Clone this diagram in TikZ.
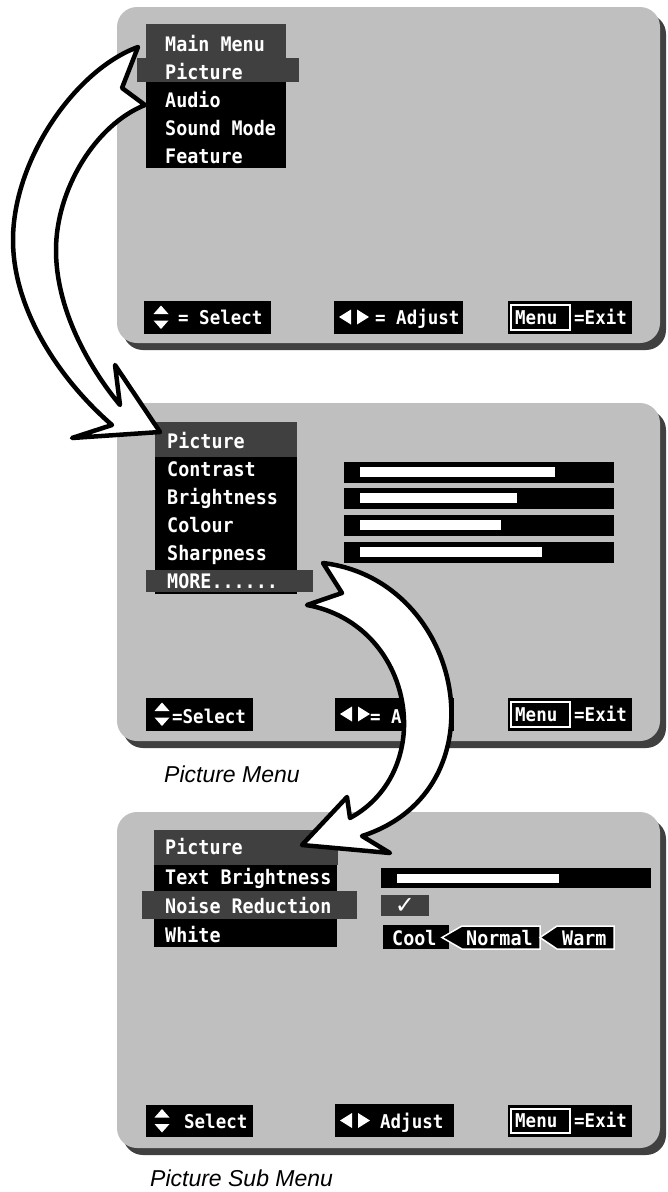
\documentclass[tikz,border=0pt]{standalone}
\usepackage{fontspec}
\setmainfont{Liberation Sans}
\newfontfamily\osdfont{DejaVu Sans Mono}[FakeStretch=0.92]
\newfontfamily\symbfont{DejaVu Sans}
\usepackage{tikz}
\definecolor{screengray}{RGB}{191,191,191}
\definecolor{osddark}{RGB}{64,64,64}
\tikzset{osd/.style={font=\osdfont\bfseries\fontsize{20}{22}\selectfont, text=white, inner sep=0pt, anchor=base west}}
\tikzset{osdbar/.style={font=\osdfont\bfseries\fontsize{19}{21}\selectfont, text=white, inner sep=0pt, anchor=base west}}
\tikzset{caption/.style={font=\itshape\fontsize{23}{26}\selectfont, inner sep=0pt, anchor=base west}}
\tikzset{bigarrow/.style={draw=black, fill=white, line width=4.5pt, line join=round}}
\newcommand{\tvscreen}[2]{% top and bottom edge
  \fill[osddark, rounded corners=20pt] (123,#1+7) rectangle (666,#2+7);
  \fill[screengray, rounded corners=20pt] (117,#1) rectangle (660,#2);}
\newcommand{\selecticon}[2]{% centre of the two triangles
  \fill[white] (#1-7.5,#2-3.5) -- (#1+7.5,#2-3.5) -- (#1,#2-12) -- cycle;
  \fill[white] (#1-7.5,#2+3) -- (#1+7.5,#2+3) -- (#1,#2+11.5) -- cycle;}
\newcommand{\adjusticon}[2]{% left tip
  \fill[white] (#1,#2) -- (#1+12,#2-7.5) -- (#1+12,#2+7.5) -- cycle;
  \fill[white] (#1+30,#2) -- (#1+18,#2-7.5) -- (#1+18,#2+7.5) -- cycle;}
\newcommand{\menuexit}[3]{% name, top, bottom
  \fill[black] (508,#2) rectangle (632,#3);
  \draw[white, line width=1.5pt] (511,#2+4) rectangle (570,#3-4);
  \node (#1menu) at (515,#3-10) [osdbar] {Menu};
  \node (#1exit) at (574,#3-10) [osdbar] {=Exit};}

\begin{document}
\begin{tikzpicture}[x=1pt, y=-1pt]
        \useasboundingbox (0,0) rectangle (667,1192);

        % MAIN MENU
        \tvscreen{7}{343}
        \fill[osddark] (146,24) rectangle (286,58);
        \fill[black] (146,58) rectangle (286,168);
        \fill[osddark] (137,58) rectangle (299,82);
        \node (mainmenu) at (165,51) [osd] {Main Menu};
        \node (picA) at (165,79) [osd] {Picture};
        \node (audio) at (165,107) [osd] {Audio};
        \node (sound) at (165,135) [osd] {Sound Mode};
        \node (feature) at (165,163) [osd] {Feature};

        \fill[black] (144,301) rectangle (271,334);
        \selecticon{161}{317.5}
        \node (selA) at (178,324) [osdbar] {= Select};
        \fill[black] (334,301) rectangle (463,334);
        \adjusticon{339}{317}
        \node (adjA) at (375,324) [osdbar] {= Adjust};
        \menuexit{A}{301}{334}

        % PICTURE MENU
        \tvscreen{403}{741}
        \fill[osddark] (155,422) rectangle (297,457);
        \fill[black] (155,457) rectangle (297,594);
        \fill[osddark] (146,570) rectangle (313,592);
        \node (picB) at (167,448) [osd] {Picture};
        \node (contrast) at (167,476) [osd] {Contrast};
        \node (bright) at (167,504) [osd] {Brightness};
        \node (colour) at (167,532) [osd] {Colour};
        \node (sharp) at (167,560) [osd] {Sharpness};
        \node (more) at (167,588) [osd] {MORE......};
        \foreach \y/\len in {462/555, 488/517, 515/501, 542/542} {
            \fill[black] (344,\y) rectangle (614,\y+21);
            \fill[white] (360,\y+5) rectangle (\len,\y+15);
        }

        \fill[black] (146,698) rectangle (253,731);
        \selecticon{162}{714.5}
        \node (selB) at (172,723) [osdbar] {=Select};
        \fill[black] (335,698) rectangle (454,731);
        \adjusticon{340}{714}
        \node (adjB) at (370,723) [osdbar] {= Adjust};
        \menuexit{B}{698}{731}
        \node (capB) at (164,782) [caption] {Picture Menu};

        % PICTURE SUB MENU
        \tvscreen{812}{1148}
        \fill[osddark] (154,830) rectangle (338,865);
        \fill[black] (154,865) rectangle (337,947);
        \fill[osddark] (142,891) rectangle (357,919);
        \node (picC) at (165,854) [osd] {Picture};
        \node (textbright) at (165,884) [osd] {Text Brightness};
        \node (noise) at (165,913) [osd] {Noise Reduction};
        \node (white) at (165,942) [osd] {White};

        \fill[black] (381,868) rectangle (651,888);
        \fill[white] (397,874) rectangle (559,883);
        \fill[osddark] (381,895) rectangle (429,916);
        \node (tick) at (405,906) [font=\symbfont\fontsize{24}{26}\selectfont, text=white, inner sep=0pt] {✓};
        \fill[black] (383,925) rectangle (449,949);
        \node (cool) at (392,945) [osd] {Cool};
        \filldraw[fill=black, draw=white, line width=1.5pt] (442,937.5) -- (462,926) -- (540,926) -- (540,949) -- (462,949) -- cycle;
        \node (normal) at (466,945) [osd] {Normal};
        \filldraw[fill=black, draw=white, line width=1.5pt] (540,937.5) -- (557,926) -- (614,926) -- (614,949) -- (557,949) -- cycle;
        \node (warm) at (562,945) [osd] {Warm};

        \fill[black] (146,1105) rectangle (253,1137);
        \selecticon{162}{1121}
        \node (selC) at (184,1128) [osdbar] {Select};
        \fill[black] (335,1104) rectangle (454,1137);
        \adjusticon{340}{1120.5}
        \node (adjC) at (380,1128) [osdbar] {Adjust};
        \menuexit{C}{1105}{1137}
        \node (capC) at (150,1186) [caption] {Picture Sub Menu};

        % ARROWS
        \draw[bigarrow] (138,47) -- (122,88) -- (145,105)
            .. controls (95,125) and (56,190) .. (56,250)
            .. controls (56,315) and (95,375) .. (120,405)
            -- (115,365) -- (160,432) -- (72,438) -- (112,425)
            .. controls (60,380) and (13,310) .. (13,240)
            .. controls (13,160) and (75,70) .. (138,47) -- cycle;

        \draw[bigarrow] (323,563) -- (342,593) -- (307,605)
            .. controls (415,625) and (438,770) .. (350,818)
            -- (347,797) -- (302,845) -- (390,853) -- (362,836)
            .. controls (505,790) and (465,580) .. (323,563) -- cycle;
\end{tikzpicture}
\end{document}
